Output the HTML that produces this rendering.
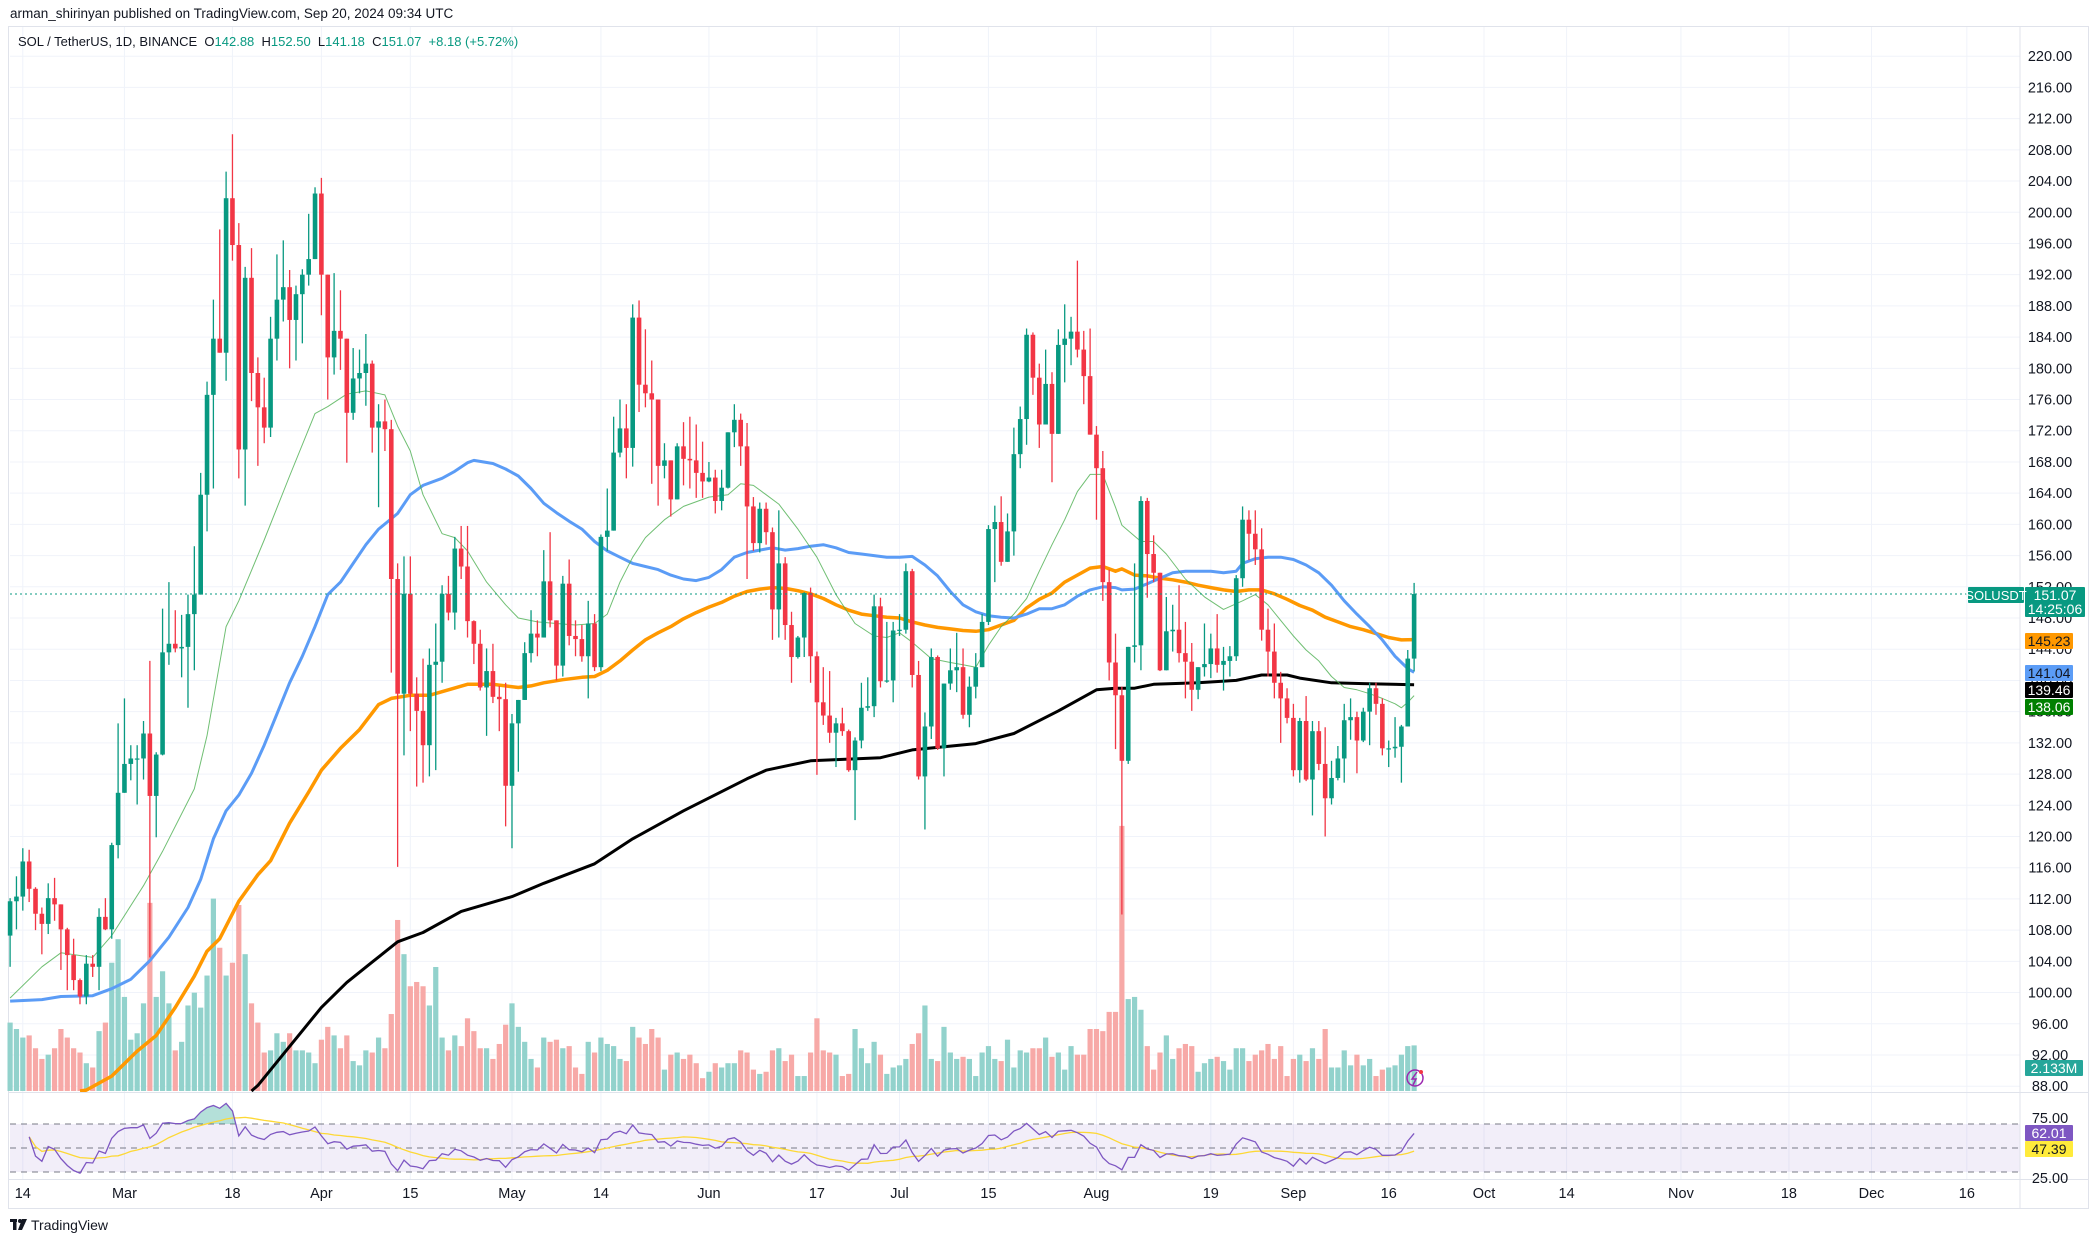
<!DOCTYPE html>
<html><head><meta charset="utf-8">
<style>
html,body{margin:0;padding:0;background:#fff;}
svg{display:block;font-family:"Liberation Sans",sans-serif;}
</style></head>
<body>
<svg id="chart" width="2100" height="1243" viewBox="0 0 2100 1243" xmlns="http://www.w3.org/2000/svg">
<rect x="0" y="0" width="2100" height="1243" fill="#ffffff"/>
<text x="10" y="18" font-size="13.5" fill="#131722">arman_shirinyan published on TradingView.com, Sep 20, 2024 09:34 UTC</text>
<rect x="8.5" y="26.5" width="2080" height="1182" fill="none" stroke="#e0e3eb"/>
<g id="grid"></g>
<rect x="10" y="1124" width="2010" height="48" fill="rgba(126,87,194,0.1)"/>
<g id="vol"></g>
<g id="mas"></g>
<g id="candles"></g>
<g id="rsi"></g>
<line x1="10" x2="2020" y1="0" y2="0" id="lastline" stroke="#089981" stroke-dasharray="2,3"/>
<line x1="2020" x2="2020" y1="27" y2="1208" stroke="#e0e3eb"/>
<line x1="9" x2="2088" y1="1092.5" y2="1092.5" stroke="#e0e3eb"/>
<line x1="9" x2="2088" y1="1179.5" y2="1179.5" stroke="#e0e3eb"/>
<g id="axis"></g>
<g id="labels"></g>
<text x="18" y="46" font-size="13" fill="#131722" xml:space="preserve">SOL / TetherUS, 1D, BINANCE  O<tspan fill="#089981">142.88</tspan>  H<tspan fill="#089981">152.50</tspan>  L<tspan fill="#089981">141.18</tspan>  C<tspan fill="#089981">151.07</tspan>  <tspan fill="#089981">+8.18 (+5.72%)</tspan></text>
<g>
<rect x="10" y="1219" width="7" height="3" fill="#131722"/><rect x="13" y="1219" width="3.5" height="11" fill="#131722"/><circle cx="20" cy="1221" r="2" fill="#131722"/><polygon points="22,1219 27,1219 22,1230 18,1230" fill="#131722"/>
<text x="31" y="1230" font-size="14" fill="#131722">TradingView</text>
</g>
<g><circle cx="1415" cy="1078" r="8" fill="none" stroke="#9c27b0" stroke-width="1.5"/><path d="M1417 1072 L1412 1079 L1416 1079 L1413 1085" fill="none" stroke="#9c27b0" stroke-width="1.5"/><circle cx="1421" cy="1072" r="2" fill="#f23645"/></g>
</svg>
<script>
const closes=[111.7,112.3,116.8,113.3,110.1,108.8,112.1,111.3,108.1,104.8,
101.6,99.5,103.7,103.3,109.7,108.1,118.9,125.6,129.3,130,
130,133.2,125.2,130.5,143.6,144.7,144.1,144.3,148.5,151,
163.8,176.6,183.8,182,201.8,195.8,169.6,191.6,179.4,175,
172.4,183.8,188.8,190.4,186.2,189.5,192,194,202.4,192,
181.4,184.8,183.8,174.3,178.7,179.4,180.6,172.4,173.2,172.2,
153,138.3,151.1,138.3,136.1,131.7,142,142.4,151.1,148.7,
156.9,154.6,147.6,144.7,139.1,141.2,137.9,137.6,126.5,134.5,
137.5,143.5,146,145.5,152.7,147.7,141.9,152.4,145.7,145.3,
143.1,147.3,141.7,158.4,159.2,169.2,172.3,169.8,186.5,177.9,
176.8,176,167.5,168.2,163.2,170,168.4,168.2,166.6,165.5,
166,163,164.7,171.8,173.4,170,162.3,157.6,162,159,
149.1,155,147.1,143,145.5,151.2,143.1,137.2,135.5,133.3,
134.5,133.5,128.5,132.3,136.5,136.7,149.5,139.9,140,146.4,
146.5,154,140.7,127.7,134.1,143,131.3,139.6,141.3,141.7,
135.6,139.2,141.7,147.5,159.4,160.3,155.2,159.1,169,173.5,
184.3,178.8,172.8,178,171.6,183,183.8,184.7,182.4,179,
171.5,167.2,152.6,142.3,138.1,129.7,144.3,144.5,163,156.2,
153.8,141.3,146.3,146.5,143.5,142.4,138.8,141.7,142.1,144.1,
142,142.5,143.1,153.1,160.6,158.8,156.8,146.5,143.7,139.7,
137.7,135.2,128.5,134.8,127.3,133.5,129.3,124.9,127.5,130,
134.9,135.3,132.3,136,139,137,131.3,131.3,131.5,134.1,
142.8,151.07];
const firstOpen=107.3;
const highs=[112.1,114.9,118.5,118.3,113.5,110.9,114,114.7,111.3,108.3,
106.9,101.8,104.8,104.8,110.8,112.1,119.2,134.5,137.7,131.7,
131.7,134.8,142.5,130.8,149.2,152.6,149,148.4,151,157.2,
166.6,178.3,188.8,197.8,205.2,210,198.6,193,195.4,181.4,
178.8,186.6,194.6,196.4,192.6,190.6,192.7,199.8,203.2,204.4,
192,192.2,190,183.8,182.6,182.4,184.4,181,175.4,176,
173.4,155,155.9,155.9,140.4,142.8,144.1,147.3,152.2,153.4,
158.4,159.8,159.8,147.7,146.5,144.1,144.7,139.3,139.7,135.7,
137.5,144.9,149,147.7,156.7,159,147.7,153.4,155.5,147.7,
147.1,150.2,148.5,158.7,164.6,173.8,176,175.4,188.2,188.7,
185,181,176,170.4,168.2,170.4,173.1,173.8,172.8,170.6,
168,167,167,171.8,175.4,174.2,173,163.5,162.8,162.8,
159.6,161.8,155.8,148.8,145.7,151.3,151.9,143.7,141.7,141.2,
135.2,136.5,133.7,132.7,139.7,140.4,151,150.6,147.5,147.5,
148.5,155,154.3,142.5,135.9,144.1,143.2,139.6,144.1,146.1,
144.1,140.5,143.5,148.5,159.9,162.4,163.6,161.4,172.4,175.1,
185.1,184.6,180.6,182.4,179.5,185,188.2,186.6,193.8,184.8,
185.1,172.6,169.4,154.2,146,139.2,144.3,155,163.6,163.4,
158.6,153.8,150.7,149.7,152.2,147.5,144.8,141.7,147.3,146,
148.5,144.3,144.4,153.5,162.3,161.8,161.8,159.5,149.2,147.3,
141.1,139,137,135.2,138,134.8,134.8,134,129.7,131.6,
137,137.7,136,136.5,139.7,139.7,137.7,132.3,135.3,134.3,
143.9,152.5];
const lows=[103.3,108.1,110.5,111.6,108,104.9,107.5,109.2,102.9,100.3,
100.3,98.5,98.5,102,100.3,108,106.9,117.2,125.6,127.2,
124.1,127.3,104.5,119.9,130.4,142,143.6,140.4,136.5,141.3,
151,159.1,164.6,182,178.4,193.8,165.9,162.4,175.8,167.5,
170.4,171.2,181,186,180,181,183.2,190.6,194,186.8,
176,179.2,179.8,167.9,173.4,176.8,175.2,169.2,162.2,169.4,
141,116.1,130.4,133.5,126.4,126.9,127.7,128.5,139.7,147.7,
146.5,153,145.5,142.1,138.7,132.9,137.1,133.5,121.3,118.5,
128.3,137.5,142.3,143.1,145.5,146.8,140,140.5,144.5,143.1,
142.4,137.7,141.2,141.2,156.6,159.2,168.6,165.9,167.4,174.4,
175,165.2,162.4,165.9,161,163.2,165,164.6,163.4,163.4,
165.4,161.4,161.8,164.6,169.9,167.5,153,156.6,156.4,157.4,
145.2,145.5,145.2,139.7,142.8,143,139.7,127.9,134.3,132,
128.9,132.9,128.3,122.1,131.3,136.1,135.3,139.1,139.7,137.2,
145.7,146,139.1,127.3,120.9,132.5,131.1,127.7,138.8,138.5,
135.1,134,137.7,141.7,147.1,152.6,154.7,155.4,156,167.2,
170.2,176.6,169.8,172.8,165.4,171.6,178.2,180.4,181.4,175.4,
171.5,160.6,150.2,140,131.2,110,129.3,142.3,141.3,150.6,
152.6,141.2,141.3,143.7,142.3,137.7,136.1,137.6,140.5,140.3,
141,138.7,140.5,142.5,152,155.4,154.8,145.1,140.5,137.7,
132,134.5,127.7,126.9,127.1,122.7,128.5,120,124.1,127.2,
126.9,132.4,128.1,132.1,131.7,135.6,130.4,128.9,130.1,126.9,
134.1,141.18];
const volumes=[3.2,2.9,2.5,2.6,2.0,1.5,1.7,2.0,2.9,2.5,
2.0,1.8,1.3,1.1,2.8,3.2,6.0,7.1,4.4,2.4,
2.7,4.1,8.8,4.4,5.6,4.1,1.9,2.3,4.0,4.6,
3.9,5.4,9.0,6.7,5.4,6.0,8.7,6.4,4.1,3.2,
1.8,1.9,2.7,2.3,2.7,1.9,1.9,1.8,1.3,2.4,
3.0,2.6,2.0,2.6,1.4,1.2,1.9,1.8,2.5,2.0,
3.6,8.0,6.4,4.9,5.1,4.9,4.0,5.8,2.5,1.9,
2.6,2.1,3.4,2.8,2.0,2.0,1.5,2.2,3.1,4.1,
3.0,2.3,1.5,1.1,2.5,2.3,2.4,2.0,2.1,1.1,
0.8,2.3,1.8,2.5,2.2,2.1,1.5,1.4,3.0,2.5,
2.2,2.9,2.5,1.0,1.7,1.8,1.5,1.7,1.3,0.6,
0.9,1.3,1.1,1.3,1.3,1.9,1.8,1.0,0.8,0.9,
1.9,2.0,1.4,1.7,0.7,0.7,1.8,3.4,1.9,1.8,
1.7,0.7,0.8,2.9,2.0,1.3,2.3,1.7,0.8,1.1,
1.2,1.5,2.2,2.7,4.0,1.5,1.4,3.0,1.8,1.5,
1.6,1.5,0.7,1.8,2.1,1.5,1.4,2.4,1.1,1.9,
1.8,2.0,2.0,2.5,1.6,1.8,1.0,2.1,1.7,1.7,
2.9,2.9,2.8,3.7,3.7,12.4,4.3,4.4,3.8,2.1,
1.0,1.8,2.6,1.5,2.0,2.2,2.1,0.9,1.3,1.5,
1.6,1.4,1.0,2.0,2.0,1.4,1.7,1.9,2.2,1.5,
2.1,0.7,1.5,1.7,1.4,2.0,1.5,2.9,1.1,1.1,
1.9,1.2,1.7,1.2,1.5,0.7,1.0,1.1,1.2,1.7,
2.1,2.133];
const ma20=[[0,99.3],[5,103.3],[8,105.1],[13,104.5],[16,107.3],[21,113.7],[24,118.1],[29,126.1],[31,132.9],[34,146.9],[36,150.2],[40,158],[44,166.2],[48,174.2],[50,175.1],[53,176.7],[56,177.1],[59,176.6],[61,172.6],[63,169.4],[65,163.8],[68,158.8],[70,158.3],[72,156.6],[75,152.6],[78,149.7],[80,148],[83,147.5],[86,147.3],[89,147.1],[92,147.3],[94,148.5],[96,152.6],[98,155.8],[100,158.3],[103,160.6],[106,162.3],[110,163.5],[113,163.8],[115,165.2],[117,165],[119,163.8],[121,162.6],[124,159.4],[127,155.8],[130,151],[133,147.3],[136,145.7],[138,145.5],[140,146.1],[142,144.9],[145,142.8],[148,142.3],[150,142],[152,141.7],[154,144.5],[156,146.9],[158,148.5],[160,150.5],[162,154],[164,157.4],[166,160.6],[168,164.2],[170,166.4],[172,166.4],[174,162.2],[175,159.9],[178,157.8],[180,157.8],[182,156.2],[185,153],[188,150.7],[191,149.1],[194,150.2],[196,151],[198,149.7],[200,147.7],[202,145.7],[204,143.9],[206,142.5],[208,140.5],[210,139.1],[212,138.8],[214,138.3],[216,137.7],[218,137],[219,136.5],[220,137.2],[221,138.06]];
const ma50=[[0,98.9],[5,99.1],[8,99.5],[13,99.6],[16,100.5],[19,101.7],[22,104.1],[25,107.1],[28,110.9],[30,114.5],[32,119.7],[34,123.3],[36,125.3],[38,128.1],[40,131.7],[42,135.7],[44,139.7],[46,143.1],[48,146.9],[50,151],[52,152.6],[54,155],[56,157.4],[58,159.4],[61,161.4],[63,163.8],[65,165],[68,165.9],[70,166.8],[72,167.9],[73,168.2],[76,167.8],[78,167.1],[80,166.2],[82,164.6],[84,162.7],[86,161.5],[88,160.4],[90,159.4],[92,157.8],[94,156.6],[96,155.8],[98,155],[100,154.6],[102,154.2],[104,153.5],[106,153],[108,152.8],[110,153.2],[112,154.2],[114,155.8],[116,156.4],[118,156.7],[120,157],[122,156.7],[124,156.9],[126,157.2],[128,157.4],[130,157],[132,156.4],[134,156.2],[136,156],[138,155.8],[140,155.8],[142,155.9],[144,154.8],[146,153.4],[148,151.4],[150,149.7],[152,148.8],[154,148.3],[156,148.1],[158,148],[160,148.5],[162,149.2],[164,149.2],[166,149.7],[168,150.8],[170,151.6],[172,152],[174,151.9],[175,151.6],[177,151.7],[179,152.4],[181,153.1],[183,153.8],[185,154],[189,154],[191,153.8],[193,154],[194,155],[196,155.6],[198,155.8],[200,155.8],[202,155.5],[204,154.8],[206,153.8],[208,152.2],[210,150.2],[212,148.5],[214,146.9],[216,145.2],[218,143.1],[220,141.5],[221,141.04]];
const ma100=[[11,87.2],[12,87.5],[16,89.3],[20,92.5],[23,94.5],[26,98.1],[29,102.1],[31,105.3],[33,106.9],[36,111.7],[39,115.1],[41,116.9],[44,121.7],[47,125.7],[49,128.5],[52,131.3],[55,133.7],[58,136.9],[60,137.7],[63,138.1],[66,138.1],[69,138.8],[72,139.5],[76,139.5],[78,139.3],[80,139.1],[82,139.3],[84,139.7],[87,140.1],[90,140.4],[92,140.5],[94,141.3],[96,142.5],[98,143.9],[100,145.2],[102,146.1],[104,146.9],[106,147.9],[108,148.7],[110,149.4],[112,150],[114,150.8],[116,151.4],[118,151.7],[120,151.9],[122,151.8],[124,151.5],[126,151.1],[128,150.5],[130,149.7],[132,149],[134,148.5],[136,148.3],[138,148.1],[140,148],[142,147.5],[144,147.1],[146,146.8],[148,146.6],[150,146.4],[152,146.3],[154,146.5],[156,147.1],[158,147.7],[160,149.3],[162,150.4],[164,151.2],[166,152.6],[168,153.5],[170,154.4],[172,154.6],[174,154],[175,154.3],[177,153.5],[179,153.4],[181,153.1],[183,152.9],[185,152.6],[187,152.2],[189,151.9],[191,151.6],[193,151.4],[195,151.6],[197,151.6],[199,151.1],[201,150.4],[203,149.6],[205,149],[207,148.1],[209,147.5],[211,146.9],[213,146.5],[215,146],[217,145.5],[219,145.2],[221,145.23]];
const ma200=[[38,87],[39,88.1],[43,92.1],[49,98.1],[53,101.3],[57,103.9],[61,106.5],[65,107.7],[71,110.4],[79,112.3],[84,114],[92,116.5],[98,119.7],[106,123.3],[116,127.4],[119,128.5],[126,129.7],[137,130.1],[142,131.1],[152,131.9],[158,133.2],[165,136.1],[171,138.8],[174,139],[177,139],[180,139.5],[187,139.7],[193,140],[197,140.7],[201,140.7],[203,140.3],[208,139.7],[213,139.6],[221,139.46]];
const priceTicks=[220,216,212,208,204,200,196,192,188,184,180,176,172,168,164,160,156,152,148,144,140,136,132,128,124,120,116,112,108,104,100,96,92,88];
const timeLabels=["14","Mar","18","Apr","15","May","14","Jun","17","Jul","15","Aug","19","Sep","16","Oct","14","Nov","18","Dec","16"];
const timeIdx=[2,18,35,49,63,79,93,110,127,140,154,171,189,202,217,232,245,263,280,293,308];

const NS="http://www.w3.org/2000/svg";
function xOf(i){return 10.1+6.353*i;}
function yP(p){return 56.2+(220-p)*7.803;}
function yV(v){return 1091-v*21.38;}
function yR(r){return 1124+(70-r)*1.2;}
function mk(tag,attrs,parent){const e=document.createElementNS(NS,tag);for(const k in attrs)e.setAttribute(k,attrs[k]);parent.appendChild(e);return e;}
const G=id=>document.getElementById(id);

const grid=G('grid');
priceTicks.forEach(p=>{const l=mk('line',{x1:10,x2:2020,y1:yP(p),y2:yP(p),stroke:'#f0f3fa'},grid);

});
timeIdx.forEach(i=>{const l=mk('line',{x1:xOf(i),x2:xOf(i),y1:27,y2:1179,stroke:'#f0f3fa'},grid);

});

const opens=closes.map((c,i)=>i===0?firstOpen:closes[i-1]);

const vol=G('vol');
volumes.forEach((v,i)=>{const up=closes[i]>=opens[i];
const r=mk('rect',{x:xOf(i)-2.6,y:yV(v),width:5.2,height:1091-yV(v),fill:up?'#92d2cc':'#f7a9a7'},vol);

});

const mas=G('mas');
function maPath(arr,color,w,name,op){const d=arr.map((p,k)=>(k?'L':'M')+xOf(p[0]).toFixed(1)+' '+Math.min(yP(p[1]),1091).toFixed(1)).join(' ');
const e=mk('path',{d:d,fill:'none',stroke:color,'stroke-width':w,'stroke-linejoin':'round','stroke-opacity':op},mas);

}
maPath(ma200,'#000000',3,'ma200-line',1);
maPath(ma100,'#ff9800',3.5,'ma100-line',1);
maPath(ma50,'#5b9cf6',3,'ma50-line',1);
maPath(ma20,'#4caf50',1,'ma20-line',0.8);

const cg=G('candles');
closes.forEach((c,i)=>{const o=opens[i];const up=c>=o;const col=up?'#089981':'#f23645';const x=xOf(i);
const hi=Math.max(highs[i],o,c),lo=Math.min(lows[i],o,c);
const g=mk('g',{},cg);


mk('line',{x1:x,x2:x,y1:yP(hi),y2:yP(lo),stroke:col,'stroke-width':1.3},g);
const t=yP(Math.max(o,c)),b=yP(Math.min(o,c));
mk('rect',{x:x-2.3,y:t,width:4.6,height:Math.max(b-t,1.2),fill:col},g);});

const ll=G('lastline');ll.setAttribute('y1',yP(151.07));ll.setAttribute('y2',yP(151.07));

// RSI (Wilder, 14) with progressive warm-up
const rsiVals=[];{let ag=0,al=0;for(let i=1;i<closes.length;i++){const ch=closes[i]-closes[i-1];const gn=Math.max(ch,0),ls=Math.max(-ch,0);
if(i<=14){ag=(ag*(i-1)+gn)/i;al=(al*(i-1)+ls)/i;}else{ag=(ag*13+gn)/14;al=(al*13+ls)/14;}
rsiVals[i]=(ag+al)===0?50:100*ag/(ag+al);}}
const START=3;
const rg=G('rsi');
[70,50,30].forEach(v=>{const l=mk('line',{x1:10,x2:2020,y1:yR(v),y2:yR(v),stroke:'#787b86','stroke-dasharray':'6,5','stroke-width':1},rg);

});
const pts=[];for(let i=START;i<rsiVals.length;i++)pts.push([xOf(i),yR(rsiVals[i])]);
const cpp=mk('clipPath',{id:'ob'},rg);
mk('rect',{x:0,y:0,width:2020,height:yR(70)},cpp);
const fillD='M'+pts[0][0]+' '+yR(70)+' '+pts.map(p=>'L'+p[0].toFixed(1)+' '+p[1].toFixed(1)).join(' ')+' L'+pts[pts.length-1][0]+' '+yR(70)+' Z';
const of=mk('path',{d:fillD,fill:'rgba(8,153,129,0.3)','clip-path':'url(#ob)'},rg);


const rsiMA=[];for(let i=START;i<rsiVals.length;i++){let s=0,n=0;for(let k=0;k<14&&i-k>=START;k++){s+=rsiVals[i-k];n++;}rsiMA.push([xOf(i),yR(s/n)]);}
const ym=mk('path',{d:rsiMA.map((p,k)=>(k?'L':'M')+p[0].toFixed(1)+' '+p[1].toFixed(1)).join(' '),fill:'none',stroke:'#fdd835','stroke-width':1.3},rg);


const rl=mk('path',{d:pts.map((p,k)=>(k?'L':'M')+p[0].toFixed(1)+' '+p[1].toFixed(1)).join(' '),fill:'none',stroke:'#7e57c2','stroke-width':1.3},rg);



const ax=G('axis');
priceTicks.forEach(p=>{const t=mk('text',{x:2050,y:yP(p)+5,'font-size':14.5,'text-anchor':'middle',fill:'#131722'},ax);t.textContent=p.toFixed(2);

});
[[75,'75.00'],[25,'25.00']].forEach(a=>{const t=mk('text',{x:2050,y:yR(a[0])+5,'font-size':14.5,'text-anchor':'middle',fill:'#131722'},ax);t.textContent=a[1];

});
timeLabels.forEach((s,k)=>{const t=mk('text',{x:xOf(timeIdx[k]),y:1198,'font-size':14.5,'text-anchor':'middle',fill:'#131722'},ax);t.textContent=s;

});

const lb=G('labels');
function box(x,y,w,h,bg,fg,lines,name){const g=mk('g',{},lb);


mk('rect',{x:x,y:y,width:w,height:h,fill:bg,rx:1},g);
lines.forEach((s,k)=>{const t=mk('text',{x:x+w/2,y:y+13+k*14,'font-size':14,'text-anchor':'middle',fill:fg},g);t.textContent=s;});}
box(2025,587,60,30,'#089981','#fff',['151.07','14:25:06'],'last-price-label');
box(2025,633,48,16,'#ff9800','#131722',['145.23'],'ma100-value-label');
box(2025,665,48,16,'#5b9cf6','#131722',['141.04'],'ma50-value-label');
box(2025,682,48,16,'#000000','#fff',['139.46'],'ma200-value-label');
box(2025,699,48,16,'#008000','#fff',['138.06'],'ma20-value-label');
box(2025,1060,58,16,'#26a69a','#fff',['2.133M'],'volume-value-label');
box(2025,1125,48,16,'#7e57c2','#fff',['62.01'],'rsi-value-label');
box(2025,1141,48,16,'#ffeb3b','#131722',['47.39'],'rsi-ma-value-label');
const sg=mk('g',{},lb);


mk('rect',{x:1968,y:587,width:56,height:16,fill:'#089981',rx:1},sg);
const st=mk('text',{x:1996,y:600,'font-size':13,'text-anchor':'middle',fill:'#fff'},sg);st.textContent='SOLUSDT';
</script>
</body></html>
